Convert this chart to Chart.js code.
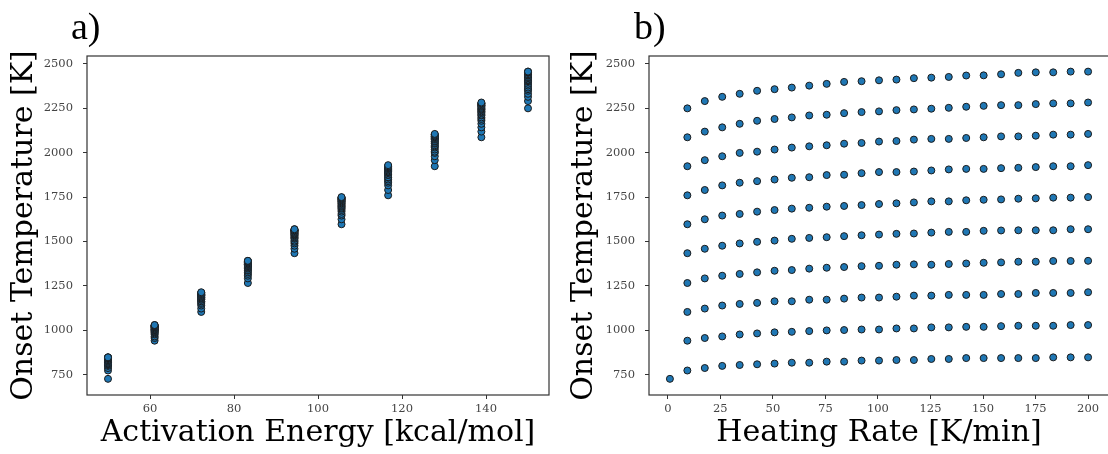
<!DOCTYPE html>
<html>
<head>
<meta charset="utf-8">
<script src="https://cdn.jsdelivr.net/npm/chart.js@4/dist/chart.umd.min.js"></script>
<style>
  html, body { margin: 0; padding: 0; background: #fff; }
  body { width: 1108px; height: 454px; overflow: hidden; position: relative; }
  .panel { position: absolute; top: 0; width: 560px; height: 454px; }
  .letra { position: absolute; top: 4px; font-family: "Liberation Serif", serif; font-size: 38px; color: #000; }
</style>
</head>
<body>
<div class="panel" style="left:0"><canvas id="chartA" width="560" height="454"></canvas></div>
<div class="panel" style="left:560px"><canvas id="chartB" width="560" height="454"></canvas></div>
<div class="letra" style="left:71px">a)</div>
<div class="letra" style="left:634px">b)</div>
<script>
// energias de activacion [kcal/mol]
const energias = [50, 61.1, 72.2, 83.3, 94.4, 105.6, 116.7, 127.8, 138.9, 150];
// velocidades de calentamiento [K/min]
const rampas = [1, 9.3, 17.6, 25.9, 34.2, 42.5, 50.8, 59.0, 67.3, 75.6, 83.9, 92.2, 100.5,
                108.8, 117.1, 125.4, 133.7, 142.0, 150.3, 158.6, 166.8, 175.1, 183.4, 191.7, 200];

// temperatura de inicio [K], una lista por energia (null = sin dato)
const onset50  = [726, 773, 787, 799, 804, 808, 812, 817, 817, 823, 823, 829, 829, 832, 832, 838, 838, 843, 843, 843, 843, 843, 847, 847, 847];
const onset61  = [null, 941, 956, 965, 976, 982, 988, 991, 995, 999, 1001, 1004, 1004, 1010, 1010, 1016, 1016, 1019, 1019, 1023, 1025, 1025, 1025, 1029, 1029];
const onset72  = [null, 1103, 1122, 1139, 1148, 1154, 1163, 1163, 1172, 1172, 1178, 1184, 1184, 1189, 1195, 1195, 1199, 1199, 1199, 1204, 1204, 1210, 1210, 1210, 1214];
const onset83  = [null, 1266, 1292, 1307, 1317, 1326, 1335, 1339, 1347, 1352, 1356, 1361, 1363, 1369, 1371, 1369, 1373, 1376, 1380, 1382, 1386, 1386, 1390, 1390, 1391];
const onset94  = [null, 1434, 1459, 1476, 1489, 1498, 1505, 1515, 1520, 1524, 1530, 1535, 1539, 1543, 1545, 1550, 1554, 1554, 1560, 1562, 1563, 1563, 1563, 1569, 1569];
const onset106 = [null, 1597, 1625, 1646, 1655, 1668, 1677, 1685, 1690, 1696, 1700, 1705, 1711, 1715, 1720, 1726, 1726, 1732, 1735, 1737, 1741, 1743, 1747, 1747, 1750];
const onset117 = [null, 1760, 1790, 1816, 1831, 1840, 1849, 1859, 1862, 1874, 1876, 1885, 1891, 1891, 1894, 1900, 1906, 1909, 1909, 1913, 1915, 1919, 1924, 1924, 1930];
const onset128 = [null, 1924, 1958, 1980, 1999, 2006, 2018, 2029, 2036, 2042, 2051, 2055, 2063, 2066, 2074, 2078, 2078, 2083, 2087, 2092, 2092, 2096, 2102, 2102, 2106];
const onset139 = [null, 2087, 2119, 2143, 2163, 2180, 2190, 2199, 2210, 2214, 2223, 2229, 2233, 2240, 2244, 2248, 2253, 2259, 2264, 2268, 2268, 2274, 2278, 2278, 2283];
const onset150 = [null, 2250, 2291, 2315, 2332, 2349, 2358, 2367, 2378, 2388, 2399, 2403, 2408, 2412, 2420, 2423, 2427, 2435, 2436, 2442, 2450, 2453, 2453, 2457, 2457];

// marcas de los ejes
const ticksY  = [750, 1000, 1250, 1500, 1750, 2000, 2250, 2500];
const ticksXA = [60, 80, 100, 120, 140];
const ticksXB = [0, 25, 50, 75, 100, 125, 150, 175, 200];

const series = [onset50, onset61, onset72, onset83, onset94, onset106, onset117, onset128, onset139, onset150];

const azul = '#1f77b4';
const fuenteTick = { family: 'DejaVu Serif', size: 11.5 };
const fuenteTitulo = { family: 'DejaVu Serif', size: 30, lineHeight: 1 };

// marco alrededor del area del grafico
const marco = {
  id: 'marco',
  afterDatasetsDraw(chart) {
    const a = chart.chartArea, ctx = chart.ctx;
    ctx.save();
    ctx.strokeStyle = '#333';
    ctx.lineWidth = 1.2;
    ctx.strokeRect(a.left, a.top, a.right - a.left, a.bottom - a.top);
    ctx.restore();
  }
};

function dataset(puntos) {
  return {
    data: puntos,
    backgroundColor: azul,
    borderColor: '#1b1b1b',
    borderWidth: 1,
    pointRadius: 3.5,
    pointHoverRadius: 3.5
  };
}

function ejeX(min, max, marcas, titulo) {
  return {
    type: 'linear', min: min, max: max,
    afterBuildTicks: s => { s.ticks = marcas.map(v => ({ value: v })); },
    afterFit: s => { s.height = 59; },
    grid: { display: true, drawOnChartArea: false, drawTicks: true, tickLength: 4, color: '#333', tickColor: '#333' },
    border: { display: false },
    ticks: { font: fuenteTick, color: '#444', padding: 3, maxRotation: 0, callback: v => String(v) },
    title: { display: true, text: titulo, font: fuenteTitulo, color: '#000', padding: { top: 0, bottom: 6 } }
  };
}

function ejeY(ancho) {
  return {
    type: 'linear', min: 635, max: 2545,
    afterBuildTicks: s => { s.ticks = ticksY.map(v => ({ value: v })); },
    afterFit: s => { s.width = ancho; },
    grid: { display: true, drawOnChartArea: false, drawTicks: true, tickLength: 4, color: '#333', tickColor: '#333' },
    border: { display: false },
    ticks: { font: fuenteTick, color: '#444', padding: 10, callback: v => String(v) },
    title: { display: true, text: 'Onset Temperature [K]', font: fuenteTitulo, color: '#000', padding: { top: 9, bottom: 0 } }
  };
}

function opciones(ejeHoriz, anchoY) {
  return {
    responsive: false,
    animation: false,
    layout: { padding: { top: 56, right: 11, left: 0, bottom: 0 } },
    plugins: { legend: { display: false }, tooltip: { enabled: false } },
    scales: { x: ejeHoriz, y: ejeY(anchoY) }
  };
}

// a) temperatura vs energia
const datosA = series.map((s, i) =>
  dataset(s.map(t => t === null ? null : { x: energias[i], y: t }).filter(p => p !== null)));

new Chart(document.getElementById('chartA').getContext('2d'), {
  type: 'scatter',
  data: { datasets: datosA },
  options: opciones(ejeX(45, 155, ticksXA, 'Activation Energy [kcal/mol]'), 87),
  plugins: [marco]
});

// b) temperatura vs velocidad de calentamiento
const datosB = series.map(s =>
  dataset(s.map((t, j) => t === null ? null : { x: rampas[j], y: t }).filter(p => p !== null)));

new Chart(document.getElementById('chartB').getContext('2d'), {
  type: 'scatter',
  data: { datasets: datosB },
  options: opciones(ejeX(-8.95, 209.95, ticksXB, 'Heating Rate [K/min]'), 89),
  plugins: [marco]
});
</script>
</body>
</html>
